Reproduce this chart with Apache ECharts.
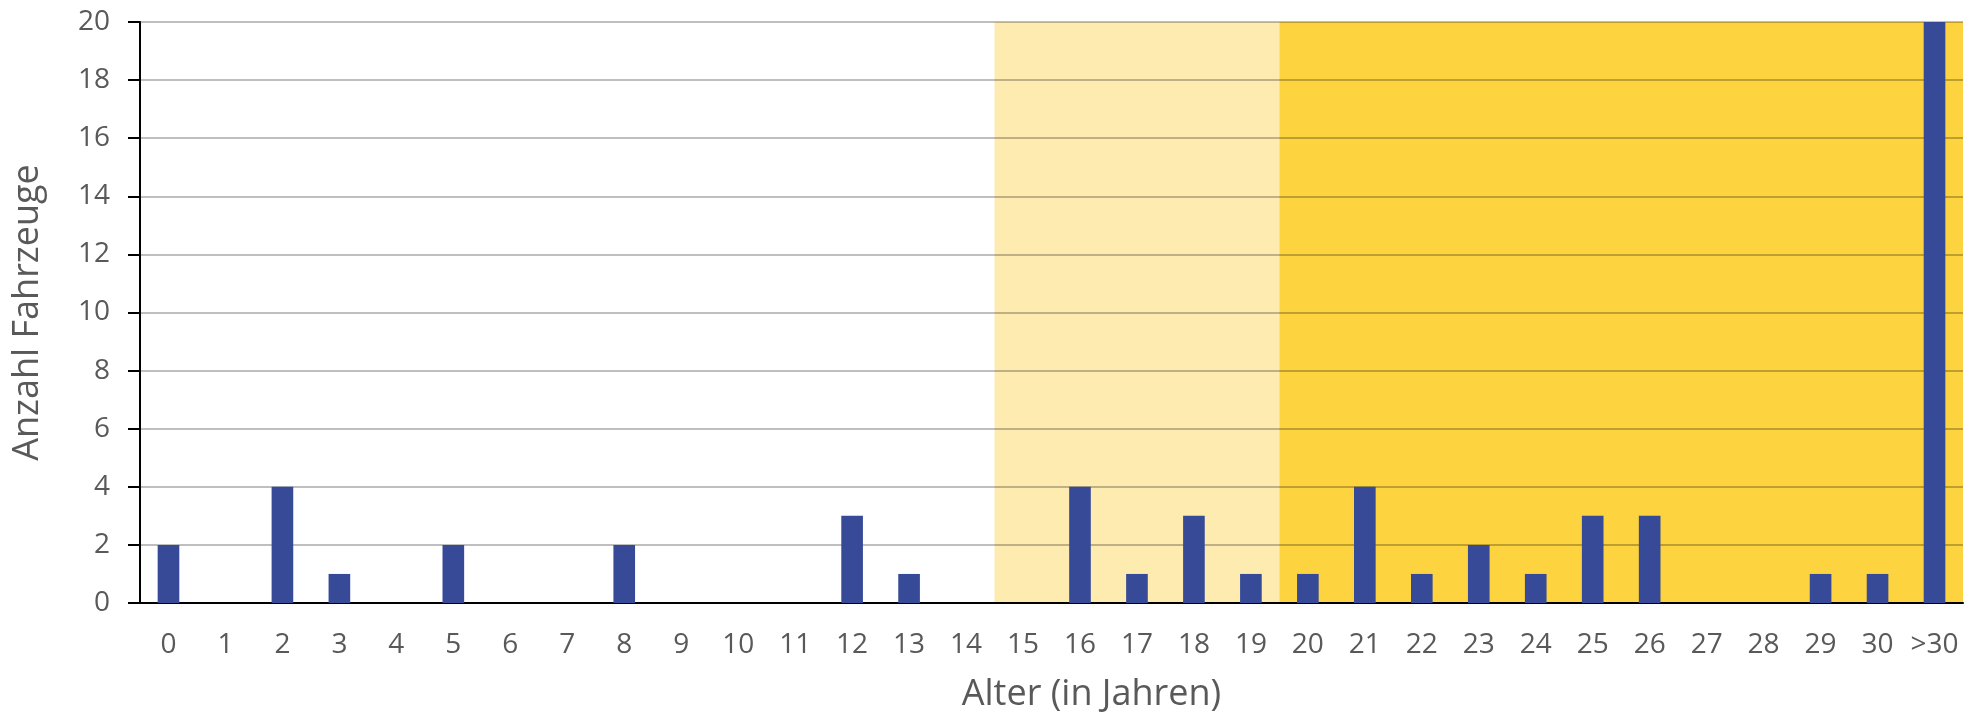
<!DOCTYPE html>
<html>
<head>
<meta charset="utf-8">
<script src="https://cdn.jsdelivr.net/npm/echarts@6/dist/echarts.min.js"></script>
<style>
  html, body { margin: 0; padding: 0; background: #fff; }
  #chart { width: 1983px; height: 718px; }
</style>
</head>
<body>
<div id="chart"></div>
<script>
// Altersstruktur der Fahrzeuge
const ageLabels = ['0', '1', '2', '3', '4', '5', '6', '7', '8', '9', '10', '11', '12', '13', '14', '15',
  '16', '17', '18', '19', '20', '21', '22', '23', '24', '25', '26', '27', '28', '29', '30', '>30'];
const vehicleCounts = [2, 0, 4, 1, 0, 2, 0, 0, 2, 0, 0, 0, 3, 1, 0, 0,
  4, 1, 3, 1, 1, 4, 1, 2, 1, 3, 3, 0, 0, 1, 1, 20];
// Hintergrundbereiche (von, bis)
const bandLight = ['15', '19'];
const bandDark = ['20', '>30'];
const yTicks = { min: 0, max: 20, interval: 2 };

const textColor = '#595959';
const font = '"Open Sans", sans-serif';

// Hintergrund als Balken ueber die volle Kategoriebreite
function bandValues(band) {
  const from = ageLabels.indexOf(band[0]);
  const to = ageLabels.indexOf(band[1]);
  return ageLabels.map((label, i) => (i >= from && i <= to ? yTicks.max : '-'));
}

// large-Modus: ein einziger Pfad, dadurch keine Fugen zwischen den Balken
function bandSeries(band, color) {
  return {
    type: 'bar',
    xAxisIndex: 1,
    data: bandValues(band),
    barWidth: '100%',
    barGap: '-100%',
    large: true,
    largeThreshold: 1,
    silent: true,
    itemStyle: { color: color },
    z: -1,
  };
}

const chart = echarts.init(document.getElementById('chart'));
const option = {
  animation: false,
  grid: {
    left: 140,
    right: 20,
    top: 22,
    bottom: 115,
  },
  xAxis: [
    {
      type: 'category',
      data: ageLabels,
      name: 'Alter (in Jahren)',
      nameLocation: 'middle',
      nameGap: 74,
      nameTextStyle: {
        color: textColor,
        fontSize: 36,
        fontFamily: font,
        padding: [0, 0, 0, 80],
      },
      axisLine: { lineStyle: { color: '#000', width: 2 } },
      axisTick: { length: 10, lineStyle: { color: '#000', width: 2 } },
      axisLabel: {
        color: textColor,
        fontSize: 28,
        fontFamily: font,
        margin: 28,
        interval: 0,
      },
    },
    {
      // versteckte Achse fuer den Hintergrund
      type: 'category',
      data: ageLabels,
      show: false,
    },
  ],
  yAxis: {
    type: 'value',
    min: yTicks.min,
    max: yTicks.max,
    interval: yTicks.interval,
    name: 'Anzahl Fahrzeuge',
    nameLocation: 'middle',
    nameGap: 94,
    nameTextStyle: {
      color: textColor,
      fontSize: 36,
      fontFamily: font,
    },
    axisLine: { show: true, lineStyle: { color: '#000', width: 2 } },
    axisTick: { show: true, length: 12, lineStyle: { color: '#000', width: 2 } },
    axisLabel: {
      color: textColor,
      fontSize: 28,
      fontFamily: font,
      margin: 30,
    },
    splitLine: { lineStyle: { color: 'rgba(0,0,0,0.25)', width: 2 } },
  },
  series: [
    bandSeries(bandLight, '#FEEBB0'),
    bandSeries(bandDark, '#FDD33F'),
    {
      name: 'Anzahl',
      type: 'bar',
      data: vehicleCounts,
      barWidth: '38%',
      itemStyle: { color: '#374A97' },
      z: 3,
    },
  ],
};
chart.setOption(option);
</script>
</body>
</html>
